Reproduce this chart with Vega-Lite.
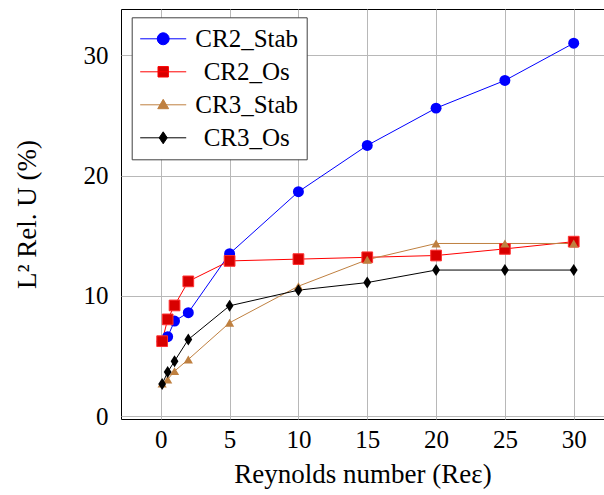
{
  "$schema": "https://vega.github.io/schema/vega-lite/v6.json",
  "width": 483,
  "height": 410,
  "autosize": "none",
  "padding": {"left": 121, "top": 9, "right": 0, "bottom": 76},
  "config": {
    "font": "Liberation Serif, Times New Roman, serif",
    "view": {"stroke": "#000", "strokeWidth": 1},
    "axis": {
      "grid": true, "gridColor": "#b8b8b8", "gridWidth": 1,
      "domain": false, "ticks": false,
      "labelFont": "Liberation Serif, Times New Roman, serif", "labelFontSize": 25, "labelColor": "#000",
      "titleFont": "Liberation Serif, Times New Roman, serif", "titleFontSize": 27, "titleFontWeight": "normal", "titleColor": "#000"
    }
  },
  "data": {"values": [
    {"series": "CR2_Stab", "re": 0.1, "err": 6.2},
    {"series": "CR2_Stab", "re": 0.5, "err": 6.6},
    {"series": "CR2_Stab", "re": 1, "err": 7.9},
    {"series": "CR2_Stab", "re": 2, "err": 8.6},
    {"series": "CR2_Stab", "re": 5, "err": 13.5},
    {"series": "CR2_Stab", "re": 10, "err": 18.65},
    {"series": "CR2_Stab", "re": 15, "err": 22.5},
    {"series": "CR2_Stab", "re": 20, "err": 25.6},
    {"series": "CR2_Stab", "re": 25, "err": 27.9},
    {"series": "CR2_Stab", "re": 30, "err": 31.0},
    {"series": "CR2_Os", "re": 0.1, "err": 6.23},
    {"series": "CR2_Os", "re": 0.5, "err": 8.04},
    {"series": "CR2_Os", "re": 1, "err": 9.2},
    {"series": "CR2_Os", "re": 2, "err": 11.2},
    {"series": "CR2_Os", "re": 5, "err": 12.9},
    {"series": "CR2_Os", "re": 10, "err": 13.05},
    {"series": "CR2_Os", "re": 15, "err": 13.2},
    {"series": "CR2_Os", "re": 20, "err": 13.35},
    {"series": "CR2_Os", "re": 25, "err": 13.9},
    {"series": "CR2_Os", "re": 30, "err": 14.5},
    {"series": "CR3_Stab", "re": 0.1, "err": 2.7},
    {"series": "CR3_Stab", "re": 0.5, "err": 3.05},
    {"series": "CR3_Stab", "re": 1, "err": 3.74},
    {"series": "CR3_Stab", "re": 2, "err": 4.71},
    {"series": "CR3_Stab", "re": 5, "err": 7.76},
    {"series": "CR3_Stab", "re": 10, "err": 10.8},
    {"series": "CR3_Stab", "re": 15, "err": 13.0},
    {"series": "CR3_Stab", "re": 20, "err": 14.35},
    {"series": "CR3_Stab", "re": 25, "err": 14.35},
    {"series": "CR3_Stab", "re": 30, "err": 14.35},
    {"series": "CR3_Os", "re": 0.1, "err": 2.66},
    {"series": "CR3_Os", "re": 0.5, "err": 3.66},
    {"series": "CR3_Os", "re": 1, "err": 4.57},
    {"series": "CR3_Os", "re": 2, "err": 6.37},
    {"series": "CR3_Os", "re": 5, "err": 9.17},
    {"series": "CR3_Os", "re": 10, "err": 10.47},
    {"series": "CR3_Os", "re": 15, "err": 11.1},
    {"series": "CR3_Os", "re": 20, "err": 12.14},
    {"series": "CR3_Os", "re": 25, "err": 12.14},
    {"series": "CR3_Os", "re": 30, "err": 12.14}
  ]},
  "encoding": {
    "x": {"field": "re", "type": "quantitative",
      "scale": {"domain": [-2.89, 32.2], "nice": false, "zero": false},
      "axis": {"values": [0, 5, 10, 15, 20, 25, 30], "labelPadding": 8, "title": "Reynolds number (Reε)", "titlePadding": 9}},
    "y": {"field": "err", "type": "quantitative",
      "scale": {"domain": [-0.24, 33.84], "nice": false, "zero": false},
      "axis": {"values": [0, 10, 20, 30], "labelPadding": 13, "title": "L² Rel. U (%)", "titlePadding": 42}}
  },
  "layer": [
    {
      "mark": {"type": "line", "strokeWidth": 1},
      "encoding": {
        "color": {"field": "series", "type": "nominal",
          "scale": {"domain": ["CR2_Stab", "CR2_Os", "CR3_Stab", "CR3_Os"], "range": ["#0000ff", "#ff0000", "#bf8040", "#000000"]},
          "legend": {
            "orient": "none", "legendX": 10.7, "legendY": 8.3, "title": null,
            "fillColor": "white", "strokeColor": "#404040", "padding": 8,
            "labelFont": "Liberation Serif, Times New Roman, serif", "labelFontSize": 25, "labelColor": "#000",
            "labelAlign": "center", "labelOffset": 70, "labelExpr": "datum.label + '\u00a0'",
            "symbolSize": 676, "symbolStrokeWidth": 1, "symbolOffset": 10, "rowPadding": 6,
            "encode": {"symbols": {"update": {
              "shape": {"signal": "datum.value === 'CR2_Stab' ? 'M-1.77,0L1.77,0M-0.46,0A0.46,0.46,0,1,1,0.46,0A0.46,0.46,0,1,1,-0.46,0Z' : datum.value === 'CR2_Os' ? 'M-1.77,0L1.77,0M-0.4,-0.4L0.4,-0.4L0.4,0.4L-0.4,0.4Z' : datum.value === 'CR3_Stab' ? 'M-1.77,0L1.77,0M0,-0.42L0.42,0.3L-0.42,0.3Z' : 'M-1.77,0L1.77,0M0,-0.46L0.31,0L0,0.46L-0.31,0Z'"},
              "fill": {"signal": "datum.value === 'CR2_Stab' ? '#0000ff' : datum.value === 'CR2_Os' ? '#d80000' : datum.value === 'CR3_Stab' ? '#bf8040' : '#000000'"},
              "fillOpacity": {"value": 1},
              "stroke": {"signal": "datum.value === 'CR2_Stab' ? '#0000ff' : datum.value === 'CR2_Os' ? '#ff3030' : datum.value === 'CR3_Stab' ? '#bf8040' : '#000000'"},
              "strokeWidth": {"value": 1},
              "opacity": {"value": 1}
            }}}
          }}
      }
    },
    {
      "transform": [{"filter": "datum.series === 'CR2_Stab'"}],
      "mark": {"type": "point", "shape": "circle", "size": 120, "filled": true, "opacity": 1, "color": "#0000ff"}
    },
    {
      "transform": [{"filter": "datum.series === 'CR2_Os'"}],
      "mark": {"type": "point", "shape": "square", "size": 115, "filled": false, "opacity": 1, "fill": "#d80000", "fillOpacity": 1, "stroke": "#ff3030", "strokeWidth": 1}
    },
    {
      "transform": [{"filter": "datum.series === 'CR3_Stab'"}],
      "mark": {"type": "point", "shape": "triangle-up", "size": 85, "filled": true, "opacity": 1, "color": "#bf8040"}
    },
    {
      "transform": [{"filter": "datum.series === 'CR3_Os'"}],
      "mark": {"type": "point", "shape": "M0,-1L0.65,0L0,1L-0.65,0Z", "size": 144, "filled": true, "opacity": 1, "color": "#000000"}
    }
  ]
}
